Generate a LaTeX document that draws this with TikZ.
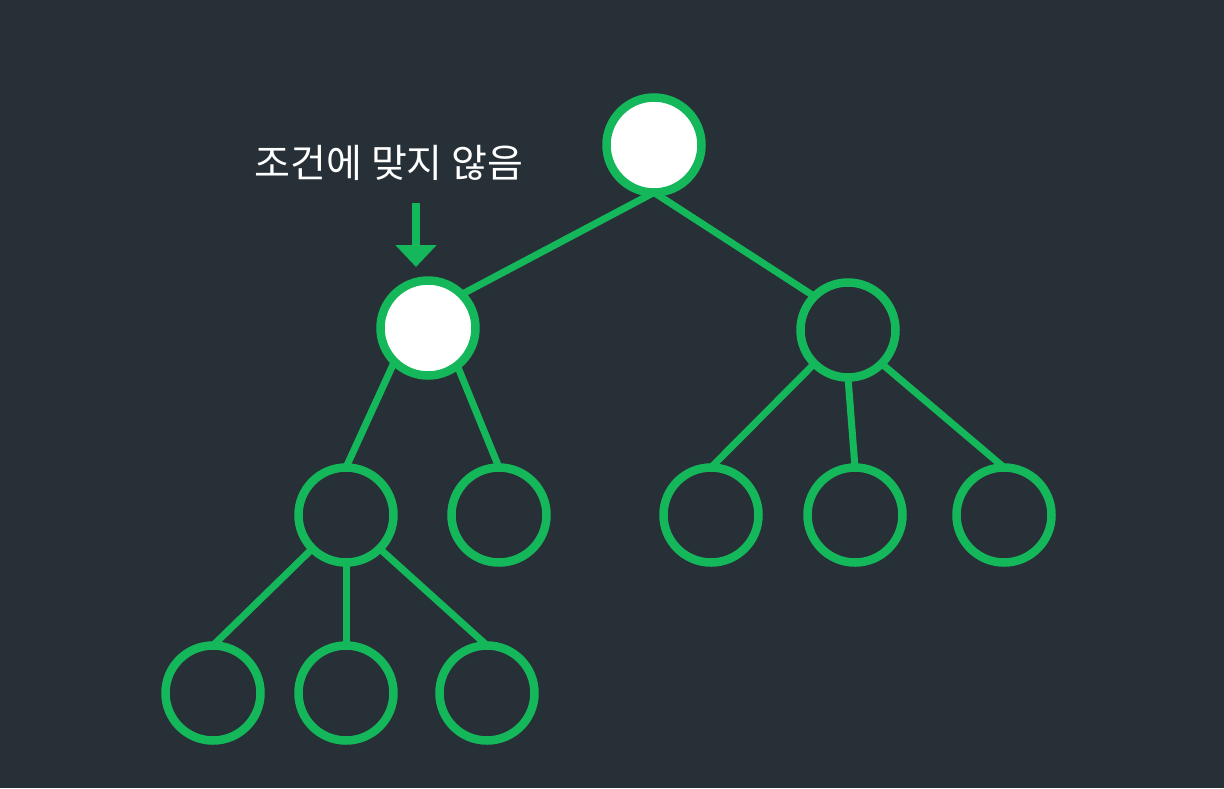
\documentclass[tikz,border=0pt]{standalone}
\usepackage{fontspec}
\newfontfamily\krfont{Noto Sans CJK KR}
\usetikzlibrary{arrows.meta}
\pgfdeclarelayer{back}
\pgfdeclarelayer{background}
\pgfsetlayers{back,background,main}
\definecolor{bg}{HTML}{263036}
\definecolor{grn}{HTML}{14B85A}
\tikzset{
  tnode/.style={circle, draw=grn, line width=8.5pt, minimum size=95pt, inner sep=0pt, outer sep=0pt, fill=bg},
  hit/.style={tnode, fill=white},
  edge/.style={draw=grn, line width=7pt},
  label/.style={text=white, font=\krfont\fontsize{39}{46}\selectfont}
}
\begin{document}
\begin{tikzpicture}[x=1pt,y=-1pt]
\begin{pgfonlayer}{back}
\fill[bg] (0,0) rectangle (1224,788);
\end{pgfonlayer}
\useasboundingbox (0,0) rectangle (1224,788);
\node[hit] (r) at (654,145) {};
\node[hit] (a) at (428,328) {};
\node[tnode] (b) at (848,330) {};
\node[tnode] (a1) at (346,515) {};
\node[tnode] (a2) at (499,515) {};
\node[tnode] (b1) at (711,515) {};
\node[tnode] (b2) at (855,515) {};
\node[tnode] (b3) at (1004,515) {};
\node[tnode] (c1) at (213,693) {};
\node[tnode] (c2) at (346,693) {};
\node[tnode] (c3) at (487,693) {};
\begin{pgfonlayer}{background}
\draw[edge] (r.south) -- (a.north east);
\draw[edge] (r.south) -- (b.north west);
\draw[edge] (a.south west) -- (a1.north);
\draw[edge] (a.-52) -- (a2.north);
\draw[edge] (b.south west) -- (b1.north);
\draw[edge] (b.south) -- (b2.north);
\draw[edge] (b.south east) -- (b3.north);
\draw[edge] (a1.south west) -- (c1.north);
\draw[edge] (a1.south) -- (c2.north);
\draw[edge] (a1.south east) -- (c3.north);
\end{pgfonlayer}
\node[label] (t) at (389,163) {조건에 맞지 않음};
\coordinate (as) at (416,203);
\coordinate (ae) at (416,267);
\draw[grn, line width=8pt, -{Triangle[length=22pt,width=40pt]}] (as) -- (ae);
\end{tikzpicture}
\end{document}
